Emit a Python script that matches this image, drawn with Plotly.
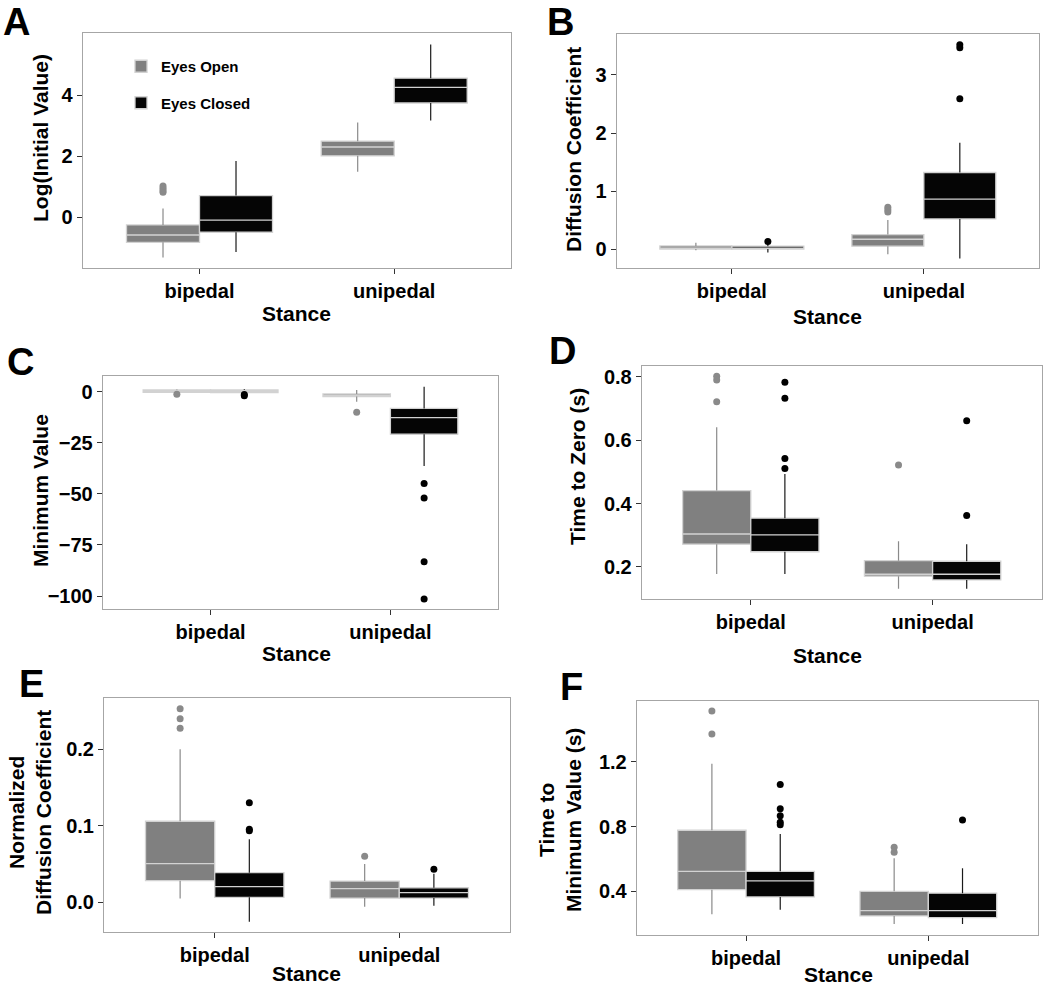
import plotly.graph_objects as go

W, H = 1050, 988

CATEGORIES = ["bipedal", "unipedal"]
GROUPS = ["Eyes Open", "Eyes Closed"]

# ---------------- Panel A: Log(Initial Value) ----------------
A_OPEN_LOW = [-1.32, 1.49]
A_OPEN_Q1 = [-0.82, 2.01]
A_OPEN_MED = [-0.58, 2.30]
A_OPEN_Q3 = [-0.25, 2.49]
A_OPEN_HIGH = [0.29, 3.10]
A_OPEN_OUT_BI = [0.82, 0.88, 0.95, 1.02]
A_OPEN_OUT_UNI = []
A_CLOSED_LOW = [-1.14, 3.17]
A_CLOSED_Q1 = [-0.49, 3.74]
A_CLOSED_MED = [-0.09, 4.25]
A_CLOSED_Q3 = [0.71, 4.55]
A_CLOSED_HIGH = [1.84, 5.65]
A_CLOSED_OUT_BI = []
A_CLOSED_OUT_UNI = []

# ---------------- Panel B: Diffusion Coefficient ----------------
B_OPEN_LOW = [-0.02, -0.09]
B_OPEN_Q1 = [0.0, 0.05]
B_OPEN_MED = [0.015, 0.17]
B_OPEN_Q3 = [0.055, 0.25]
B_OPEN_HIGH = [0.11, 0.50]
B_OPEN_OUT_BI = []
B_OPEN_OUT_UNI = [0.64, 0.68, 0.72]
B_CLOSED_LOW = [-0.057, -0.16]
B_CLOSED_Q1 = [0.0, 0.52]
B_CLOSED_MED = [0.012, 0.86]
B_CLOSED_Q3 = [0.05, 1.32]
B_CLOSED_HIGH = [0.10, 1.83]
B_CLOSED_OUT_BI = [0.13]
B_CLOSED_OUT_UNI = [2.59, 3.47, 3.52]

# ---------------- Panel C: Minimum Value ----------------
C_OPEN_LOW = [-0.8, -4.9]
C_OPEN_Q1 = [-0.4, -2.4]
C_OPEN_MED = [0.2, -1.8]
C_OPEN_Q3 = [0.8, -1.1]
C_OPEN_HIGH = [1.0, 0.8]
C_OPEN_OUT_BI = [-1.3]
C_OPEN_OUT_UNI = [-10.1]
C_CLOSED_LOW = [-1.0, -36.4]
C_CLOSED_Q1 = [-0.5, -20.8]
C_CLOSED_MED = [0.1, -12.7]
C_CLOSED_Q3 = [0.8, -8.2]
C_CLOSED_HIGH = [1.2, 2.4]
C_CLOSED_OUT_BI = [-1.4, -2.0]
C_CLOSED_OUT_UNI = [-44.9, -52.0, -83.2, -101.5]

# ---------------- Panel D: Time to Zero (s) ----------------
D_OPEN_LOW = [0.178, 0.131]
D_OPEN_Q1 = [0.272, 0.171]
D_OPEN_MED = [0.304, 0.177]
D_OPEN_Q3 = [0.441, 0.220]
D_OPEN_HIGH = [0.641, 0.281]
D_OPEN_OUT_BI = [0.721, 0.790, 0.802]
D_OPEN_OUT_UNI = [0.522]
D_CLOSED_LOW = [0.178, 0.131]
D_CLOSED_Q1 = [0.248, 0.159]
D_CLOSED_MED = [0.301, 0.177]
D_CLOSED_Q3 = [0.354, 0.218]
D_CLOSED_HIGH = [0.493, 0.272]
D_CLOSED_OUT_BI = [0.511, 0.542, 0.732, 0.783]
D_CLOSED_OUT_UNI = [0.362, 0.661]

# ---------------- Panel E: Normalized Diffusion Coefficient ----------------
E_OPEN_LOW = [0.005, -0.0057]
E_OPEN_Q1 = [0.0283, 0.0056]
E_OPEN_MED = [0.0505, 0.0178]
E_OPEN_Q3 = [0.106, 0.0278]
E_OPEN_HIGH = [0.200, 0.050]
E_OPEN_OUT_BI = [0.2275, 0.240, 0.253]
E_OPEN_OUT_UNI = [0.0601]
E_CLOSED_LOW = [-0.0254, -0.0044]
E_CLOSED_Q1 = [0.0065, 0.0056]
E_CLOSED_MED = [0.0204, 0.0126]
E_CLOSED_Q3 = [0.0387, 0.019]
E_CLOSED_HIGH = [0.0824, 0.0374]
E_CLOSED_OUT_BI = [0.0935, 0.0955, 0.130]
E_CLOSED_OUT_UNI = [0.0431]

# ---------------- Panel F: Time to Minimum Value (s) ----------------
F_OPEN_LOW = [0.258, 0.198]
F_OPEN_Q1 = [0.410, 0.248]
F_OPEN_MED = [0.523, 0.280]
F_OPEN_Q3 = [0.777, 0.400]
F_OPEN_HIGH = [1.188, 0.604]
F_OPEN_OUT_BI = [1.371, 1.513]
F_OPEN_OUT_UNI = [0.641, 0.672]
F_CLOSED_LOW = [0.286, 0.198]
F_CLOSED_Q1 = [0.365, 0.237]
F_CLOSED_MED = [0.464, 0.280]
F_CLOSED_Q3 = [0.523, 0.388]
F_CLOSED_HIGH = [0.754, 0.542]
F_CLOSED_OUT_BI = [0.811, 0.826, 0.867, 0.910, 1.060]
F_CLOSED_OUT_UNI = [0.840]

# ---------------- Axis titles / ticks ----------------
Y_TITLES = ["Log(Initial Value)", "Diffusion Coefficient", "Minimum Value",
            "Time to Zero (s)", "Normalized<br>Diffusion Coefficient",
            "Time to<br>Minimum Value (s)"]
X_TITLE = "Stance"
PANEL_LETTERS = ["A", "B", "C", "D", "E", "F"]
Y_TICKS = [[0, 2, 4], [0, 1, 2, 3], [-100, -75, -50, -25, 0],
           [0.2, 0.4, 0.6, 0.8], [0.0, 0.1, 0.2], [0.4, 0.8, 1.2]]
Y_TICKFORMAT = ["d", "d", "d", ".1f", ".1f", ".1f"]

data = {
    "A": dict(open=(A_OPEN_LOW, A_OPEN_Q1, A_OPEN_MED, A_OPEN_Q3, A_OPEN_HIGH, A_OPEN_OUT_BI, A_OPEN_OUT_UNI),
              closed=(A_CLOSED_LOW, A_CLOSED_Q1, A_CLOSED_MED, A_CLOSED_Q3, A_CLOSED_HIGH, A_CLOSED_OUT_BI, A_CLOSED_OUT_UNI)),
    "B": dict(open=(B_OPEN_LOW, B_OPEN_Q1, B_OPEN_MED, B_OPEN_Q3, B_OPEN_HIGH, B_OPEN_OUT_BI, B_OPEN_OUT_UNI),
              closed=(B_CLOSED_LOW, B_CLOSED_Q1, B_CLOSED_MED, B_CLOSED_Q3, B_CLOSED_HIGH, B_CLOSED_OUT_BI, B_CLOSED_OUT_UNI)),
    "C": dict(open=(C_OPEN_LOW, C_OPEN_Q1, C_OPEN_MED, C_OPEN_Q3, C_OPEN_HIGH, C_OPEN_OUT_BI, C_OPEN_OUT_UNI),
              closed=(C_CLOSED_LOW, C_CLOSED_Q1, C_CLOSED_MED, C_CLOSED_Q3, C_CLOSED_HIGH, C_CLOSED_OUT_BI, C_CLOSED_OUT_UNI)),
    "D": dict(open=(D_OPEN_LOW, D_OPEN_Q1, D_OPEN_MED, D_OPEN_Q3, D_OPEN_HIGH, D_OPEN_OUT_BI, D_OPEN_OUT_UNI),
              closed=(D_CLOSED_LOW, D_CLOSED_Q1, D_CLOSED_MED, D_CLOSED_Q3, D_CLOSED_HIGH, D_CLOSED_OUT_BI, D_CLOSED_OUT_UNI)),
    "E": dict(open=(E_OPEN_LOW, E_OPEN_Q1, E_OPEN_MED, E_OPEN_Q3, E_OPEN_HIGH, E_OPEN_OUT_BI, E_OPEN_OUT_UNI),
              closed=(E_CLOSED_LOW, E_CLOSED_Q1, E_CLOSED_MED, E_CLOSED_Q3, E_CLOSED_HIGH, E_CLOSED_OUT_BI, E_CLOSED_OUT_UNI)),
    "F": dict(open=(F_OPEN_LOW, F_OPEN_Q1, F_OPEN_MED, F_OPEN_Q3, F_OPEN_HIGH, F_OPEN_OUT_BI, F_OPEN_OUT_UNI),
              closed=(F_CLOSED_LOW, F_CLOSED_Q1, F_CLOSED_MED, F_CLOSED_Q3, F_CLOSED_HIGH, F_CLOSED_OUT_BI, F_CLOSED_OUT_UNI)),
}

# ---------------- Layout geometry (pixels) ----------------
# plot-area boxes: left, right, top, bottom
BOXES = [(82.7, 511.0, 33.3, 267.7), (616.7, 1039.0, 34.3, 267.7),
         (102.7, 498.3, 375.7, 609.3), (641.7, 1041.7, 365.7, 599.3),
         (104.0, 510.0, 698.3, 932.3), (636.7, 1037.7, 701.0, 935.0)]
Y_RANGES = [(-1.65, 6.02), (-0.32, 3.70), (-106.5, 7.8),
            (0.098, 0.835), (-0.0392, 0.2667), (0.130, 1.575)]
# letter centre x, text-box top y
LETTER_POS = [(16, 0), (560, 0), (20, 340), (562, 329), (31, 662), (571, 665)]
YTITLE_POS = [(40, 138), (573, 150), (40, 491), (577, 467), (30, 813), (560, 820)]
XTITLE_POS = [(296, 313), (827, 316), (296, 653), (827, 655), (306, 973), (838, 974)]

COLORS = {"open": dict(fill="#808080", whisker="#8a8a8a", point="#8a8a8a"),
          "closed": dict(fill="#050505", whisker="#1a1a1a", point="#000000")}
OUTLINE = "#d2d2d2"
DODGE = 0.1875
BOX_W = 0.375
FONT = "Liberation Sans, Arial, Helvetica, sans-serif"


def px_x(p):
    return p / W


def px_y(p):
    return 1 - p / H


fig = go.Figure()
annotations = []
for i, key in enumerate(["A", "B", "C", "D", "E", "F"]):
    xa = "x" if i == 0 else f"x{i+1}"
    ya = "y" if i == 0 else f"y{i+1}"
    for g, gname, off in (("open", "Eyes Open", -DODGE), ("closed", "Eyes Closed", DODGE)):
        low, q1, med, q3, high, out_bi, out_uni = data[key][g]
        pos = [j + off for j in range(len(CATEGORIES))]
        # whiskers
        wx, wy = [], []
        for j in range(len(CATEGORIES)):
            wx += [pos[j], pos[j], None, pos[j], pos[j], None]
            wy += [q3[j], high[j], None, q1[j], low[j], None]
        fig.add_trace(go.Scatter(x=wx, y=wy, mode="lines", xaxis=xa, yaxis=ya,
                                 line=dict(color=COLORS[g]["whisker"], width=1.2),
                                 showlegend=False, hoverinfo="skip"))
        # boxes
        fig.add_trace(go.Box(x=pos, q1=q1, median=med, q3=q3, lowerfence=q1, upperfence=q3,
                             width=BOX_W, whiskerwidth=0, boxpoints=False,
                             fillcolor=COLORS[g]["fill"], line=dict(color=OUTLINE, width=1.3),
                             name=gname, legendgroup=gname, showlegend=(i == 0),
                             xaxis=xa, yaxis=ya))
        # outliers
        ox = [pos[0]] * len(out_bi) + [pos[1]] * len(out_uni)
        oy = list(out_bi) + list(out_uni)
        if oy:
            fig.add_trace(go.Scatter(x=ox, y=oy, mode="markers", xaxis=xa, yaxis=ya,
                                     marker=dict(color=COLORS[g]["point"], size=7),
                                     showlegend=False))

    l, r, t, b = BOXES[i]
    axis_common = dict(showline=True, mirror=True, linecolor="#a6a6a6", linewidth=1,
                       showgrid=False, zeroline=False, ticks="outside", ticklen=5,
                       tickwidth=1, tickcolor="#333333",
                       tickfont=dict(family=FONT, size=20, color="black", weight="bold"))
    fig.update_layout(**{
        ("xaxis" if i == 0 else f"xaxis{i+1}"): dict(
            domain=[px_x(l), px_x(r)], anchor=ya, range=[-0.6, 1.6],
            tickmode="array", tickvals=list(range(len(CATEGORIES))), ticktext=CATEGORIES,
            **axis_common),
        ("yaxis" if i == 0 else f"yaxis{i+1}"): dict(
            domain=[px_y(b), px_y(t)], anchor=xa, range=list(Y_RANGES[i]),
            tickmode="array", tickvals=Y_TICKS[i], tickformat=Y_TICKFORMAT[i],
            **axis_common),
    })
    lx, ly = LETTER_POS[i]
    annotations.append(dict(text=PANEL_LETTERS[i], x=px_x(lx), y=px_y(ly), xref="paper", yref="paper",
                            xanchor="center", yanchor="top", showarrow=False, borderpad=0,
                            font=dict(family=FONT, size=38, color="black", weight="bold")))
    tx, ty = YTITLE_POS[i]
    annotations.append(dict(text=Y_TITLES[i], x=px_x(tx), y=px_y(ty), xref="paper", yref="paper",
                            xanchor="center", yanchor="middle", textangle=-90, showarrow=False,
                            font=dict(family=FONT, size=21, color="black", weight="bold")))
    sx, sy = XTITLE_POS[i]
    annotations.append(dict(text=X_TITLE, x=px_x(sx), y=px_y(sy), xref="paper", yref="paper",
                            xanchor="center", yanchor="middle", showarrow=False,
                            font=dict(family=FONT, size=21, color="black", weight="bold")))

fig.update_layout(
    width=W, height=H, margin=dict(l=0, r=0, t=0, b=0),
    paper_bgcolor="white", plot_bgcolor="white",
    boxmode="overlay",
    annotations=annotations,
    legend=dict(x=px_x(121), y=px_y(50), xanchor="left", yanchor="top",
                bgcolor="rgba(0,0,0,0)", traceorder="grouped", tracegroupgap=14,
                font=dict(family=FONT, size=15, color="black", weight="bold")),
    showlegend=True,
)

fig.write_html("out.html", config={"displayModeBar": False},
               post_script="document.body.style.margin='0';document.body.style.padding='0';")
